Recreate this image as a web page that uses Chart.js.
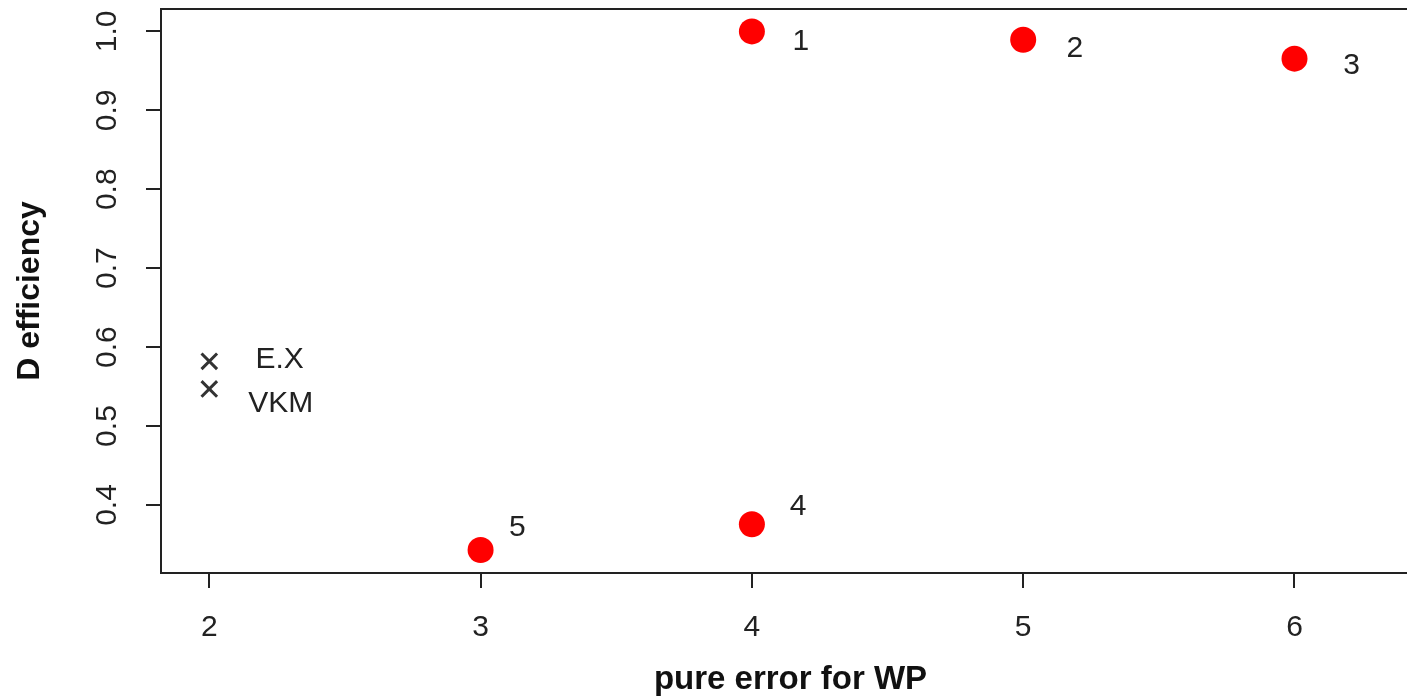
<!DOCTYPE html>
<html>
<head>
<meta charset="utf-8">
<title>D efficiency vs pure error for WP</title>
<script src="https://cdn.jsdelivr.net/npm/chart.js@4/dist/chart.umd.min.js"></script>
<style>
    html, body { margin: 0; padding: 0; background: #fff; overflow: hidden; }
    #wrap { position: absolute; left: 0; top: 0; }
</style>
</head>
<body>
<div id="wrap"><canvas id="plot" width="1430" height="697"></canvas></div>
<script>
// candidate designs (red dots)
const designX = [4, 5, 6, 4, 3];
const designY = [1.0, 0.9895, 0.9655, 0.3755, 0.343];
const designNames = ['1', '2', '3', '4', '5'];
// where the numbers are written, in data units
const designNameX = [4.18, 5.19, 6.21, 4.17, 3.135];
const designNameY = [0.987, 0.978, 0.957, 0.3975, 0.371];

// reference designs (x marks)
const refX = [2, 2];
const refY = [0.582, 0.547];
const refNames = ['E.X', 'VKM'];
const refNameX = [2.259, 2.263];
const refNameY = [0.584, 0.528];

const xTicks = [2, 3, 4, 5, 6];
const yTicks = [0.4, 0.5, 0.6, 0.7, 0.8, 0.9, 1.0];
const xRange = [1.822, 6.4626];
const yRange = [0.3138, 1.0284];

const ink = '#222';

function toPoints(xs, ys) {
    var pts = [];
    for (var i = 0; i < xs.length; i++) {
        pts.push({x: xs[i], y: ys[i]});
    }
    return pts;
}

// box round the plot + the written labels
const textPlugin = {
    id: 'textPlugin',
    afterDraw: function (chart) {
        const ctx = chart.ctx;
        const a = chart.chartArea;
        const sx = chart.scales.x;
        const sy = chart.scales.y;
        ctx.save();
        ctx.strokeStyle = ink;
        ctx.lineWidth = 2;
        ctx.strokeRect(a.left, a.top, a.right - a.left, a.bottom - a.top);
        ctx.fillStyle = ink;
        ctx.font = '30px "Liberation Sans", Arial, sans-serif';
        ctx.textAlign = 'center';
        ctx.textBaseline = 'middle';
        for (var i = 0; i < designNames.length; i++) {
            ctx.fillText(designNames[i], sx.getPixelForValue(designNameX[i]), sy.getPixelForValue(designNameY[i]));
        }
        for (var j = 0; j < refNames.length; j++) {
            ctx.fillText(refNames[j], sx.getPixelForValue(refNameX[j]), sy.getPixelForValue(refNameY[j]));
        }
        ctx.restore();
    }
};

const ctx = document.getElementById('plot').getContext('2d');
new Chart(ctx, {
    type: 'scatter',
    data: {
        datasets: [{
            label: 'designs',
            data: toPoints(designX, designY),
            backgroundColor: '#ff0000',
            borderWidth: 0,
            pointRadius: 13,
            pointHoverRadius: 13
        }, {
            label: 'reference',
            data: toPoints(refX, refY),
            pointStyle: 'crossRot',
            borderColor: '#333',
            borderWidth: 3,
            pointRadius: 11,
            pointHoverRadius: 11
        }]
    },
    options: {
        responsive: false,
        animation: false,
        layout: {
            autoPadding: false,
            padding: {top: 9, right: 10, left: 0, bottom: 0}
        },
        plugins: {
            legend: {display: false},
            tooltip: {enabled: false}
        },
        scales: {
            x: {
                type: 'linear',
                position: 'bottom',
                min: xRange[0],
                max: xRange[1],
                afterBuildTicks: function (scale) {
                    scale.ticks = xTicks.map(v => ({value: v}));
                },
                afterFit: function (scale) {
                    scale.height = 124;
                    scale.paddingLeft = 0;
                    scale.paddingRight = 0;
                },
                grid: {drawOnChartArea: false, drawTicks: true, tickLength: 15, color: ink, lineWidth: 2},
                border: {display: false},
                ticks: {
                    padding: 22,
                    color: ink,
                    font: {family: '"Liberation Sans", Arial, sans-serif', size: 30},
                    callback: v => String(v)
                },
                title: {
                    display: true,
                    text: 'pure error for WP',
                    color: '#111',
                    padding: {top: 0, bottom: -3},
                    font: {family: '"Liberation Sans", Arial, sans-serif', size: 33, weight: 'bold'}
                }
            },
            y: {
                type: 'linear',
                position: 'left',
                min: yRange[0],
                max: yRange[1],
                afterBuildTicks: function (scale) {
                    scale.ticks = yTicks.map(v => ({value: v}));
                },
                afterFit: function (scale) {
                    scale.width = 161;
                    scale.paddingTop = 0;
                    scale.paddingBottom = 0;
                },
                grid: {drawOnChartArea: false, drawTicks: true, tickLength: 15, color: ink, lineWidth: 2},
                border: {display: false},
                ticks: {
                    padding: 17,
                    minRotation: 90,
                    maxRotation: 90,
                    crossAlign: 'center',
                    color: ink,
                    font: {family: '"Liberation Sans", Arial, sans-serif', size: 30},
                    callback: v => v.toFixed(1)
                },
                title: {
                    display: true,
                    text: 'D efficiency',
                    color: '#111',
                    padding: {top: 11, bottom: 0},
                    font: {family: '"Liberation Sans", Arial, sans-serif', size: 32, weight: 'bold'}
                }
            }
        }
    },
    plugins: [textPlugin]
});
</script>
</body>
</html>
